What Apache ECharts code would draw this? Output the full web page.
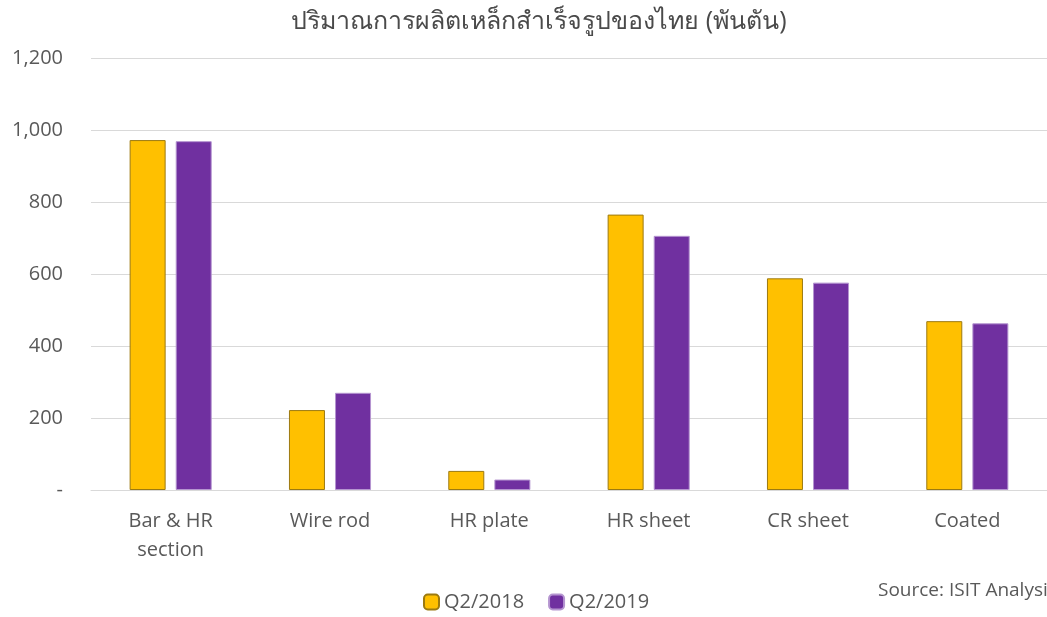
<!DOCTYPE html>
<html>
<head>
<meta charset="utf-8">
<script src="https://cdn.jsdelivr.net/npm/echarts@6/dist/echarts.min.js"></script>
<style>
  html, body { margin: 0; padding: 0; background: #fff; }
  #container { width: 1047px; height: 617px; }
</style>
</head>
<body>
<div id="container"></div>
<script>
// ข้อมูล (พันตัน)
const categories = ['Bar & HR\nsection', 'Wire rod', 'HR plate', 'HR sheet', 'CR sheet', 'Coated'];
const q2_2018 = [972, 222, 53, 765, 588, 469];
const q2_2019 = [969, 270, 29, 706, 576, 463];
const seriesNames = ['Q2/2018', 'Q2/2019'];

const fontFam = '"Open Sans", "Noto Sans", "DejaVu Sans", sans-serif';
const textColor = '#595959';

let myChart = echarts.init(document.getElementById('container'));

myChart.setOption({
    animation: false,
    title: {
        text: 'ปริมาณการผลิตเหล็กสำเร็จรูปของไทย (พันตัน)',
        left: 534,
        textAlign: 'center',
        top: 4,
        textStyle: { fontSize: 25, fontWeight: 'normal', color: '#4a4a4a', fontFamily: fontFam }
    },
    legend: {
        data: seriesNames,
        bottom: 0,
        left: 418,
        itemWidth: 15,
        itemHeight: 15,
        itemGap: 24,
        textStyle: { fontSize: 20, color: textColor, fontFamily: fontFam }
    },
    graphic: [{
        type: 'text',
        left: 878,
        top: 581,
        style: { text: 'Source: ISIT Analysis', fontSize: 19, fill: textColor, fontFamily: fontFam }
    }],
    grid: {
        left: 91,
        top: 58,
        width: 960,
        height: 432,
        containLabel: false
    },
    xAxis: {
        type: 'category',
        data: categories,
        axisLine: { show: true, lineStyle: { color: '#d9d9d9', width: 1 } },
        axisTick: { show: false },
        axisLabel: {
            color: textColor,
            fontSize: 20,
            fontFamily: fontFam,
            margin: 17,
            lineHeight: 29
        }
    },
    yAxis: {
        type: 'value',
        min: 0,
        max: 1200,
        interval: 200,
        axisLine: { show: false },
        axisTick: { show: false },
        splitLine: { lineStyle: { color: '#d9d9d9', width: 1 } },
        axisLabel: {
            color: textColor,
            fontSize: 20,
            fontFamily: fontFam,
            margin: 28,
            formatter: function (v) {
                return v === 0 ? '-' : v.toLocaleString('en-US');
            }
        }
    },
    series: [
        {
            name: seriesNames[0],
            type: 'bar',
            data: q2_2018,
            barWidth: 36,
            barGap: '28%',
            itemStyle: { color: '#FFC000', borderColor: '#9C7A10', borderWidth: 1 }
        },
        {
            name: seriesNames[1],
            type: 'bar',
            data: q2_2019,
            barWidth: 36,
            itemStyle: { color: '#7030A0', borderColor: '#B595D0', borderWidth: 1 }
        }
    ]
});
</script>
</body>
</html>
